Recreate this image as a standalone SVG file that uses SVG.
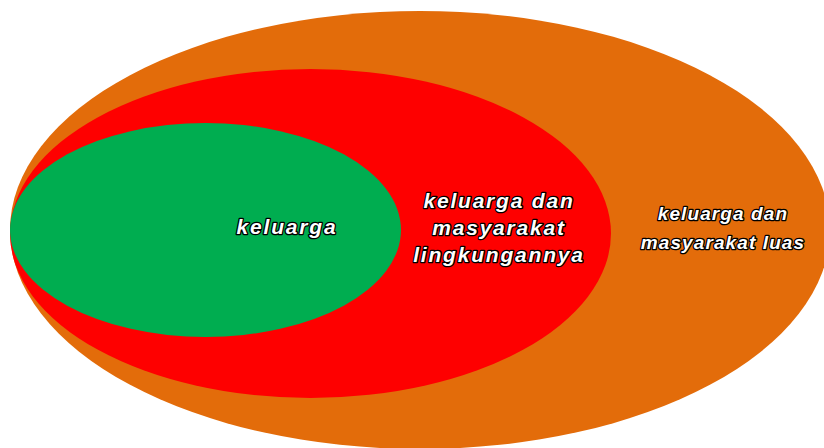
<svg xmlns="http://www.w3.org/2000/svg" width="824" height="448" viewBox="0 0 824 448">
<style>
.lbl{font-family:"Liberation Sans",Arial,sans-serif;font-weight:bold;font-style:italic;fill:#ffffff;stroke:#000000;stroke-width:2.6;stroke-linejoin:round;paint-order:stroke;text-anchor:middle}
.big{font-size:21px;letter-spacing:1.8px}
.sm{font-size:19px;letter-spacing:1.1px}
</style>
<rect width="824" height="448" fill="#ffffff"/>
<g id="outer">
<ellipse cx="420" cy="230" rx="410" ry="219" fill="#e36c0a"/>
</g>
<g id="middle">
<ellipse cx="310.5" cy="233.5" rx="300.5" ry="164.5" fill="#fe0000"/>
</g>
<g id="inner">
<ellipse cx="205.5" cy="230" rx="195.5" ry="107" fill="#00ad50"/>
</g>
<g id="connectors"></g>
<g id="labels">
<text class="lbl big" x="287" y="234">keluarga</text>
<text class="lbl big" x="499" y="208">keluarga dan</text>
<text class="lbl big" x="499" y="235">masyarakat</text>
<text class="lbl big" x="499" y="262">lingkungannya</text>
<text class="lbl sm" x="723" y="220">keluarga dan</text>
<text class="lbl sm" x="723" y="249">masyarakat luas</text>
</g>
</svg>
